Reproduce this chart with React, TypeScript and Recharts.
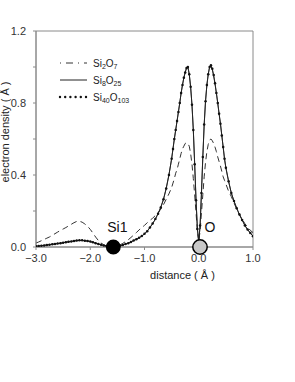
import { LineChart, Line, XAxis, YAxis, ReferenceArea, ReferenceDot } from "recharts";

// distance along the Si1–O bond (Å); finer spacing near the O atom
const distance = [
  -3.0, -2.95, -2.9, -2.85, -2.8, -2.75, -2.7, -2.65, -2.6, -2.55,
  -2.5, -2.45, -2.4, -2.35, -2.3, -2.25, -2.2, -2.15, -2.1, -2.05,
  -2.0, -1.95, -1.9, -1.85, -1.8, -1.75, -1.7, -1.65, -1.6, -1.55,
  -1.5, -1.45, -1.4, -1.35, -1.3, -1.25, -1.2, -1.15, -1.1, -1.05,
  -1.0, -0.95, -0.9, -0.85, -0.8, -0.75, -0.7, -0.65, -0.6, -0.55,
  -0.5, -0.475, -0.45, -0.425, -0.4, -0.375, -0.35, -0.325, -0.3, -0.275,
  -0.25, -0.225, -0.2, -0.175, -0.15, -0.125, -0.1, -0.075, -0.05, -0.025,
  0, 0.025, 0.05, 0.075, 0.1, 0.125, 0.15, 0.175, 0.2, 0.225,
  0.25, 0.275, 0.3, 0.325, 0.35, 0.375, 0.4, 0.425, 0.45, 0.475,
  0.5, 0.55, 0.6, 0.65, 0.7, 0.75, 0.8, 0.85, 0.9, 0.95, 1.0,
];

const si2o7 = [
  0.022, 0.028, 0.035, 0.042, 0.049, 0.056, 0.065, 0.074, 0.083, 0.092,
  0.1, 0.108, 0.117, 0.126, 0.135, 0.142, 0.143, 0.138, 0.128, 0.115,
  0.098, 0.077, 0.055, 0.036, 0.022, 0.012, 0.005, 0.002, 0.001, 0.002,
  0.006, 0.012, 0.02, 0.03, 0.04, 0.053, 0.066, 0.08, 0.095, 0.108,
  0.12, 0.135, 0.148, 0.16, 0.175, 0.19, 0.21, 0.235, 0.265, 0.295,
  0.33, 0.355, 0.38, 0.41, 0.43, 0.46, 0.49, 0.52, 0.545, 0.56,
  0.575, 0.58, 0.575, 0.56, 0.52, 0.46, 0.38, 0.29, 0.19, 0.09,
  0.03, 0.09, 0.19, 0.29, 0.39, 0.47, 0.53, 0.57, 0.595, 0.6,
  0.59, 0.575, 0.555, 0.53, 0.5, 0.475, 0.45, 0.42, 0.39, 0.37,
  0.35, 0.31, 0.28, 0.245, 0.21, 0.18, 0.155, 0.13, 0.11, 0.093, 0.08,
];

const si8o25 = [
  0.004, 0.005, 0.007, 0.009, 0.011, 0.013, 0.015, 0.017, 0.019, 0.021,
  0.024, 0.026, 0.029, 0.031, 0.033, 0.035, 0.036, 0.036, 0.035, 0.033,
  0.03, 0.026, 0.021, 0.016, 0.012, 0.008, 0.005, 0.002, 0.001, 0.002,
  0.004, 0.007, 0.011, 0.016, 0.021, 0.028, 0.036, 0.043, 0.051, 0.061,
  0.073, 0.088, 0.108, 0.13, 0.155, 0.185, 0.22, 0.265, 0.325, 0.4,
  0.49, 0.545, 0.6, 0.65, 0.7, 0.75, 0.8, 0.855, 0.9, 0.94,
  0.97, 0.995, 1.0, 0.96, 0.89, 0.79, 0.65, 0.46, 0.26, 0.1,
  0.03, 0.12, 0.3, 0.5, 0.68, 0.81, 0.9, 0.96, 1.0, 1.005,
  0.985, 0.95, 0.905, 0.855, 0.8, 0.74, 0.685, 0.62, 0.555, 0.49,
  0.44, 0.365, 0.3, 0.255, 0.215, 0.18, 0.15, 0.12, 0.097, 0.078, 0.06,
];

const si40o103 = [
  0.004, 0.005, 0.007, 0.009, 0.011, 0.013, 0.015, 0.017, 0.019, 0.021,
  0.024, 0.027, 0.029, 0.031, 0.034, 0.036, 0.037, 0.037, 0.035, 0.033,
  0.03, 0.026, 0.021, 0.016, 0.012, 0.008, 0.005, 0.002, 0.001, 0.002,
  0.004, 0.007, 0.011, 0.016, 0.021, 0.028, 0.036, 0.043, 0.051, 0.061,
  0.073, 0.088, 0.108, 0.13, 0.155, 0.185, 0.22, 0.265, 0.325, 0.4,
  0.49, 0.545, 0.6, 0.65, 0.7, 0.75, 0.8, 0.855, 0.9, 0.94,
  0.97, 0.995, 1.0, 0.96, 0.89, 0.79, 0.65, 0.46, 0.26, 0.1,
  0.03, 0.12, 0.3, 0.5, 0.68, 0.81, 0.9, 0.96, 1.0, 1.01,
  0.99, 0.955, 0.91, 0.855, 0.8, 0.74, 0.685, 0.62, 0.555, 0.49,
  0.44, 0.365, 0.3, 0.255, 0.215, 0.18, 0.15, 0.12, 0.097, 0.078, 0.06,
];

const xTicks = [-3, -2, -1, 0, 1];
const yTicks = [0, 0.2, 0.4, 0.6, 0.8, 1.0, 1.2];

const atoms = [
  { name: "Si1", x: -1.575, fill: "#000", r: 6.7, dx: 4 },
  { name: "O", x: 0.023, fill: "#c8c8c8", r: 7.2, dx: 10 },
];

const rows = distance.map((d, i) => ({
  d,
  si2o7: si2o7[i],
  si8o25: si8o25[i],
  si40o103: si40o103[i],
}));

const FONT = '"Liberation Sans", Arial, Helvetica, sans-serif';
const AXIS = "#8a8a8a";

function fmtX(v: number) {
  const s = Math.abs(v).toFixed(1);
  return v < 0 ? `\u2212${s}` : s;
}

function fmtY(v: number) {
  return Math.round(v * 10) % 4 === 0 ? v.toFixed(1) : "";
}

function Formula({ x, y, parts }: { x: number; y: number; parts: [string, string][] }) {
  return (
    <text x={x} y={y} fontSize={10} fill="#222" fontFamily={FONT}>
      {parts.map(([el, n], i) => (
        <tspan key={i}>
          <tspan dy={i === 0 ? 0 : -2.5} fontSize={10}>{el}</tspan>
          <tspan dy={2.5} fontSize={7}>{n}</tspan>
        </tspan>
      ))}
    </text>
  );
}

function LegendBox() {
  return (
    <svg
      width={295}
      height={382}
      style={{ position: "absolute", left: 0, top: 0, pointerEvents: "none" }}
    >
      <line x1={60} x2={87} y1={63} y2={63} stroke="#333" strokeDasharray="1 5 7 5" />
      <Formula x={93} y={66.5} parts={[["Si", "2"], ["O", "7"]]} />
      <line x1={60} x2={87} y1={80} y2={80} stroke="#222" />
      <Formula x={93} y={83.5} parts={[["Si", "8"], ["O", "25"]]} />
      <line
        x1={60}
        x2={87}
        y1={97}
        y2={97}
        stroke="#111"
        strokeWidth={2.4}
        strokeLinecap="round"
        strokeDasharray="0 5.2"
      />
      <Formula x={93} y={100.5} parts={[["Si", "40"], ["O", "103"]]} />
    </svg>
  );
}

export default function App() {
  return (
    <div
      style={{
        position: "absolute",
        left: 0,
        top: 0,
        width: 295,
        height: 382,
        background: "#fff",
        fontFamily: FONT,
      }}
    >
      <LineChart width={295} height={382} data={rows} margin={{ top: 31, right: 42, bottom: 101, left: 0 }}>
        <ReferenceArea x1={-3} x2={1} y1={0} y2={1.2} fill="none" stroke={AXIS} strokeWidth={1} />
        <XAxis
          dataKey="d"
          type="number"
          domain={[-3, 1]}
          ticks={xTicks}
          tickFormatter={fmtX}
          allowDataOverflow
          axisLine={{ stroke: AXIS }}
          tickLine={{ stroke: AXIS }}
          tickSize={3}
          tickMargin={4}
          tick={{ fontSize: 11, fill: "#333" }}
          height={34}
          label={{
            value: "distance ( \u00c5 )",
            position: "insideBottom",
            offset: 2,
            dx: 38,
            fontSize: 11,
            fill: "#222",
          }}
        />
        <YAxis
          type="number"
          domain={[0, 1.2]}
          ticks={yTicks}
          tickFormatter={fmtY}
          allowDataOverflow
          width={36}
          axisLine={{ stroke: AXIS }}
          tickLine={{ stroke: AXIS }}
          tickSize={3}
          tickMargin={7}
          tick={{ fontSize: 11, fill: "#333" }}
          label={{
            content: () => (
              <text
                x={8.5}
                y={132}
                transform="rotate(-90 8.5 132)"
                textAnchor="middle"
                fontSize={11}
                fill="#222"
                fontFamily={FONT}
              >
                electron density ( Å )
              </text>
            ),
          }}
        />
        <Line
          dataKey="si2o7"
          type="linear"
          stroke="#333"
          strokeWidth={1}
          strokeDasharray="6 4"
          dot={false}
          isAnimationActive={false}
        />
        <Line
          dataKey="si8o25"
          type="linear"
          stroke="#222"
          strokeWidth={1}
          dot={false}
          isAnimationActive={false}
        />
        <Line
          dataKey="si40o103"
          type="linear"
          stroke="#222"
          strokeWidth={0.8}
          dot={{ r: 1.25, fill: "#111", stroke: "#111", strokeWidth: 0 }}
          isAnimationActive={false}
        />
        {atoms.map((a) => (
          <ReferenceDot
            key={a.name}
            x={a.x}
            y={0}
            r={a.r}
            fill={a.fill}
            stroke="#000"
            strokeWidth={1.5}
            ifOverflow="visible"
            label={{ value: a.name, position: "top", offset: 8, dx: a.dx, fontSize: 14, fill: "#111" }}
          />
        ))}
      </LineChart>
      <LegendBox />
    </div>
  );
}
